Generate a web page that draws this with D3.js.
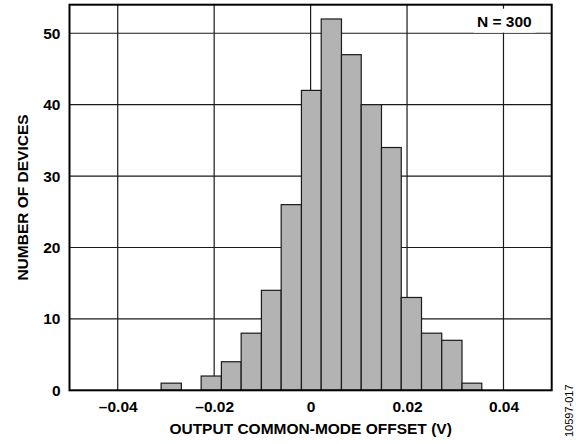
<!DOCTYPE html>
<html>
  <head>
    <meta charset=utf-8 />
    <title>Output common-mode offset histogram</title>
    <script src="https://cdnjs.cloudflare.com/ajax/libs/d3/7.8.5/d3.min.js"></script>
    <style>
      body { margin: 0; background: #fff; }
      text { font-family: "Liberation Sans", Arial, sans-serif; }
    </style>
  </head>
  <body>
    <div id="main-container"></div>
    <script>

  // histogram bins (V): left edges, right edges, counts
  var binStart = [-0.0310, -0.0268, -0.0227, -0.0185, -0.0144, -0.0102, -0.0061, -0.0019,
                  0.0022, 0.0064, 0.0105, 0.0147, 0.0188, 0.0230, 0.0272, 0.0314];
  var binEnd   = [-0.0268, -0.0227, -0.0185, -0.0144, -0.0102, -0.0061, -0.0019, 0.0022,
                  0.0064, 0.0105, 0.0147, 0.0188, 0.0230, 0.0272, 0.0314, 0.0355];
  var counts   = [1, 0, 2, 4, 8, 14, 26, 42, 52, 47, 40, 34, 13, 8, 7, 1];

  var xTicks = [-0.04, -0.02, 0, 0.02, 0.04];
  var xTickLabels = ["\u20130.04", "\u20130.02", "0", "0.02", "0.04"];
  var yTicks = [0, 10, 20, 30, 40, 50];

  var outerWidth = 576;
  var outerHeight = 444;
  var margin = {left: 69.5, right: 24.3, top: 4.7, bottom: 53.7};
  var width = outerWidth - margin.left - margin.right;
  var height = outerHeight - margin.top - margin.bottom;

  var svg = d3.select('#main-container').append('svg')
    .attr('width', outerWidth)
    .attr('height', outerHeight);

  var g = svg.append('g').attr('transform', 'translate(' + margin.left + ',' + margin.top + ')');

  var xScale = d3.scaleLinear().domain([-0.05, 0.05]).range([0, width]);
  var yScale = d3.scaleLinear().domain([0, 54]).range([height, 0]);

  // grid
  g.append('g').selectAll('line.vx').data(xTicks).enter().append('line')
    .attr('x1', function(d){ return xScale(d); })
    .attr('x2', function(d){ return xScale(d); })
    .attr('y1', 0).attr('y2', height)
    .attr('stroke', '#1a1a1a').attr('stroke-width', 1.2);
  g.append('g').selectAll('line.hy').data(yTicks.slice(1)).enter().append('line')
    .attr('x1', 0).attr('x2', width)
    .attr('y1', function(d){ return yScale(d); })
    .attr('y2', function(d){ return yScale(d); })
    .attr('stroke', '#1a1a1a').attr('stroke-width', 1.2);

  // bars
  var bins = counts.map(function(c, i){ return {x0: binStart[i], x1: binEnd[i], n: c}; });
  g.append('g').selectAll('rect').data(bins.filter(function(d){ return d.n > 0; })).enter().append('rect')
    .attr('x', function(d){ return xScale(d.x0); })
    .attr('width', function(d){ return xScale(d.x1) - xScale(d.x0); })
    .attr('y', function(d){ return yScale(d.n); })
    .attr('height', function(d){ return yScale(0) - yScale(d.n); })
    .attr('fill', '#b3b3b3')
    .attr('stroke', '#1a1a1a')
    .attr('stroke-width', 1.2);

  // N label with white box
  g.append('rect')
    .attr('x', width - 78).attr('y', 4).attr('width', 62).attr('height', 24)
    .attr('fill', '#fff');
  g.append('text')
    .attr('x', width - 20).attr('y', 22)
    .attr('text-anchor', 'end')
    .attr('font-size', '15.5px').attr('font-weight', 'bold')
    .text('N = 300');

  // frame
  g.append('rect')
    .attr('x', 0).attr('y', 0).attr('width', width).attr('height', height)
    .attr('fill', 'none').attr('stroke', '#000').attr('stroke-width', 2);

  // tick labels
  var xAxis = d3.axisBottom(xScale).tickValues(xTicks)
    .tickFormat(function(d, i){ return xTickLabels[i]; })
    .tickSize(0).tickPadding(11);
  var xg = g.append('g').attr('transform', 'translate(0,' + height + ')').call(xAxis);
  xg.select('.domain').remove();
  xg.selectAll('text').attr('font-size', '15.5px').attr('font-weight', 'bold')
    .attr('font-family', '"Liberation Sans", Arial, sans-serif').attr('fill', '#000');

  var yAxis = d3.axisLeft(yScale).tickValues(yTicks).tickSize(0).tickPadding(9);
  var yg = g.append('g').call(yAxis);
  yg.select('.domain').remove();
  yg.selectAll('text').attr('font-size', '15.5px').attr('font-weight', 'bold')
    .attr('font-family', '"Liberation Sans", Arial, sans-serif').attr('fill', '#000');

  // axis titles
  svg.append('text')
    .attr('x', margin.left + width / 2).attr('y', 434)
    .attr('text-anchor', 'middle')
    .attr('font-size', '15.5px').attr('font-weight', 'bold')
    .text('OUTPUT COMMON-MODE OFFSET (V)');
  svg.append('text')
    .attr('transform', 'translate(28,' + (margin.top + height / 2) + ') rotate(-90)')
    .attr('text-anchor', 'middle')
    .attr('font-size', '15.5px').attr('font-weight', 'bold')
    .text('NUMBER OF DEVICES');

  svg.append('text')
    .attr('transform', 'translate(573,437) rotate(-90)')
    .attr('font-size', '11px')
    .text('10597-017');

</script>
  </body>
</html>
